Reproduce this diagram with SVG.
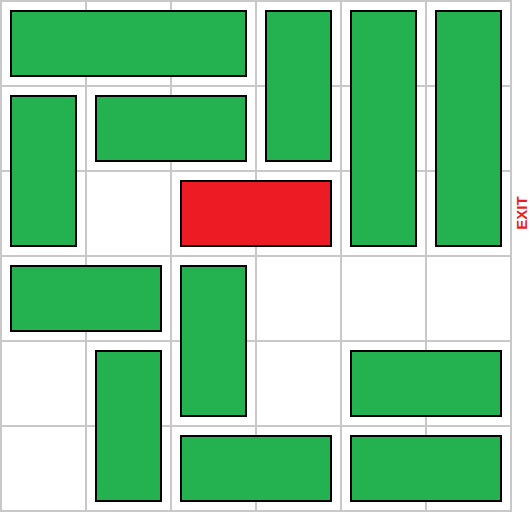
<svg xmlns="http://www.w3.org/2000/svg" width="530" height="512" viewBox="0 0 530 512">
<style>
.grid line{stroke:#c8c8c8;stroke-width:2}
.car{fill:#24b14f;stroke:#000;stroke-width:2}
.red{fill:#ed1c24;stroke:#000;stroke-width:2}
.exit{font-family:"Liberation Sans",Arial,sans-serif;font-size:15px;font-weight:bold;fill:#ed1c24}
</style>
<rect x="0" y="0" width="530" height="512" fill="#fff"/>
<g class="grid" id="grid">
<line x1="1" y1="0" x2="1" y2="512"/>
<line x1="86" y1="0" x2="86" y2="512"/>
<line x1="171" y1="0" x2="171" y2="512"/>
<line x1="256" y1="0" x2="256" y2="512"/>
<line x1="341" y1="0" x2="341" y2="512"/>
<line x1="426" y1="0" x2="426" y2="512"/>
<line x1="511" y1="0" x2="511" y2="512"/>
<line x1="0" y1="1" x2="512" y2="1"/>
<line x1="0" y1="86" x2="512" y2="86"/>
<line x1="0" y1="171" x2="512" y2="171"/>
<line x1="0" y1="256" x2="512" y2="256"/>
<line x1="0" y1="341" x2="512" y2="341"/>
<line x1="0" y1="426" x2="512" y2="426"/>
<line x1="0" y1="511" x2="512" y2="511"/>
</g>
<g id="car1"><rect class="car" x="11" y="11" width="235" height="65"/></g>
<g id="car2"><rect class="car" x="266" y="11" width="65" height="150"/></g>
<g id="car3"><rect class="car" x="351" y="11" width="65" height="235"/></g>
<g id="car4"><rect class="car" x="436" y="11" width="65" height="235"/></g>
<g id="car5"><rect class="car" x="11" y="96" width="65" height="150"/></g>
<g id="car6"><rect class="car" x="96" y="96" width="150" height="65"/></g>
<g id="redcar"><rect class="red" x="181" y="181" width="150" height="65"/></g>
<g id="car8"><rect class="car" x="11" y="266" width="150" height="65"/></g>
<g id="car9"><rect class="car" x="181" y="266" width="65" height="150"/></g>
<g id="car10"><rect class="car" x="96" y="351" width="65" height="150"/></g>
<g id="car11"><rect class="car" x="351" y="351" width="150" height="65"/></g>
<g id="car12"><rect class="car" x="181" y="436" width="150" height="65"/></g>
<g id="car13"><rect class="car" x="351" y="436" width="150" height="65"/></g>
<g id="exit"><text class="exit" transform="translate(521,213) rotate(-90)" x="0" y="5.5" text-anchor="middle">EXIT</text></g>
</svg>
